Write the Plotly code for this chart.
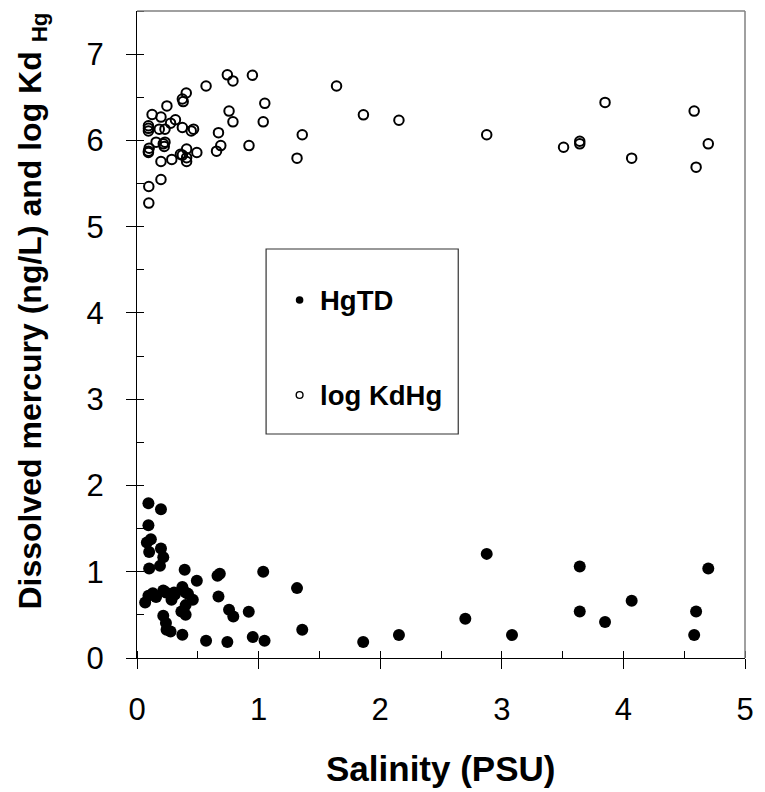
import plotly.graph_objects as go

# ---- data ----
hgtd_salinity = [0.094, 0.197, 0.094, 0.114, 0.081, 0.100, 0.197, 0.216, 0.189, 0.100,
                 0.392, 0.492, 0.662, 0.681, 0.670, 0.757, 0.792, 0.919, 0.952, 1.049,
                 1.038, 1.316, 1.359, 1.860, 0.743, 0.568, 0.373, 0.276, 0.243, 0.238,
                 0.216, 0.400, 0.365, 0.400, 0.459, 0.419, 0.373, 0.305, 0.284, 0.238,
                 0.216, 0.157, 0.130, 0.094, 0.067, 0.400, 0.311,
                 2.154, 2.700, 2.876, 3.084, 3.641, 3.641, 3.849, 4.068, 4.582, 4.598, 4.698]
hgtd_value = [1.794, 1.725, 1.539, 1.377, 1.338, 1.230, 1.268, 1.169, 1.068, 1.037,
              1.022, 0.895, 0.953, 0.976, 0.713, 0.559, 0.482, 0.536, 0.243, 0.200,
              0.999, 0.810, 0.328, 0.185, 0.185, 0.200, 0.270, 0.308, 0.328, 0.405,
              0.490, 0.501, 0.540, 0.613, 0.675, 0.744, 0.822, 0.760, 0.675, 0.760,
              0.782, 0.706, 0.752, 0.721, 0.644, 0.760, 0.737,
              0.266, 0.455, 1.207, 0.266, 1.060, 0.540, 0.417, 0.663, 0.266, 0.540, 1.037]

logkd_salinity = [0.743, 0.789, 0.949, 1.641, 1.862, 0.568, 0.405, 0.373, 0.380, 0.246,
                  0.124, 0.197, 0.094, 0.094, 0.094, 0.183, 0.230, 0.276, 0.316, 0.373,
                  0.446, 0.465, 0.757, 0.789, 1.051, 1.038, 1.359, 1.316, 0.670, 0.689,
                  0.654, 0.921, 0.157, 0.216, 0.230, 0.224, 0.100, 0.094, 0.094, 0.197,
                  0.286, 0.357, 0.373, 0.408, 0.408, 0.408, 0.492, 0.197, 0.097, 0.097,
                  2.154, 2.876, 3.508, 3.641, 3.641, 3.849, 4.068, 4.582, 4.698, 4.598]
logkd_value = [6.760, 6.690, 6.755, 6.630, 6.296, 6.630, 6.550, 6.480, 6.450, 6.400,
               6.300, 6.270, 6.170, 6.140, 6.110, 6.130, 6.130, 6.200, 6.240, 6.150,
               6.110, 6.130, 6.340, 6.215, 6.430, 6.215, 6.065, 5.794, 6.090, 5.940,
               5.875, 5.940, 5.980, 5.960, 5.980, 5.930, 5.910, 5.875, 5.860, 5.755,
               5.780, 5.840, 5.830, 5.900, 5.800, 5.755, 5.860, 5.547, 5.466, 5.273,
               6.234, 6.065, 5.920, 5.960, 5.990, 6.440, 5.794, 6.340, 5.960, 5.690]

x_ticks = [0, 1, 2, 3, 4, 5]
y_ticks = [0, 1, 2, 3, 4, 5, 6, 7]
legend_labels = ["HgTD", "log KdHg"]
x_title = "Salinity (PSU)"
y_title = "Dissolved mercury (ng/L) and log Kd <sub>Hg</sub>"

FONT = "Liberation Sans, Arial, sans-serif"
W, H = 765, 792
ML, MR, MT, MB = 137, 11, 11, 134
PW, PH = W - ML - MR, H - MT - MB


def px_x(p):
    return (p - ML) / PW


def px_y(p):
    return (H - MB - p) / PH


fig = go.Figure()
fig.add_trace(go.Scatter(x=hgtd_salinity, y=hgtd_value, mode="markers",
                         name=legend_labels[0],
                         marker=dict(symbol="circle", size=12, color="black",
                                     line=dict(width=0))))
fig.add_trace(go.Scatter(x=logkd_salinity, y=logkd_value, mode="markers",
                         name=legend_labels[1],
                         marker=dict(symbol="circle-open", size=9.5, color="black",
                                     line=dict(width=2))))
# helper trace for overlay axes (inside parts of major ticks)
fig.add_trace(go.Scatter(x=[None], y=[None], xaxis="x2", yaxis="y2",
                         showlegend=False, hoverinfo="skip"))

axis_common = dict(showgrid=False, zeroline=False, showline=True, linecolor="black",
                   linewidth=1.3, ticks="outside", ticklen=10, tickwidth=1.3,
                   tickcolor="black", tickfont=dict(family=FONT, size=31, color="black"))

fig.update_layout(
    width=W, height=H, autosize=False,
    margin=dict(l=ML, r=MR, t=MT, b=MB, pad=0),
    paper_bgcolor="white", plot_bgcolor="white",
    showlegend=False,
    xaxis=dict(range=[0, 5], tickvals=x_ticks, ticktext=[str(v) for v in x_ticks],
               minor=dict(dtick=0.5, ticks="inside", ticklen=7, tickwidth=1.3,
                          tickcolor="black"),
               ticklabelstandoff=14, **axis_common),
    yaxis=dict(range=[0, 7.5], tickvals=y_ticks, ticktext=[str(v) for v in y_ticks],
               minor=dict(dtick=0.5, ticks="inside", ticklen=7, tickwidth=1.3,
                          tickcolor="black"),
               ticklabelstandoff=16, **axis_common),
    xaxis2=dict(overlaying="x", anchor="y2", range=[0, 5], tickvals=x_ticks,
                ticks="inside", ticklen=7, tickwidth=1.3, tickcolor="black",
                showticklabels=False, showgrid=False, zeroline=False, showline=False),
    yaxis2=dict(overlaying="y", anchor="x2", range=[0, 7.5], tickvals=y_ticks,
                ticks="inside", ticklen=7, tickwidth=1.3, tickcolor="black",
                showticklabels=False, showgrid=False, zeroline=False, showline=False),
)

# top and right frame (grey)
fig.add_shape(type="line", xref="paper", yref="paper", x0=0, x1=1, y0=1, y1=1,
              line=dict(color="#808080", width=1.5))
fig.add_shape(type="line", xref="paper", yref="paper", x0=1, x1=1, y0=0, y1=1,
              line=dict(color="#808080", width=1.5))

# legend box
fig.add_shape(type="rect", xref="paper", yref="paper",
              x0=px_x(268), x1=px_x(463), y0=px_y(434), y1=px_y(249),
              line=dict(color="#333333", width=1.2), fillcolor="white")
leg_y = [px_y(300), px_y(395)]
fig.add_shape(type="circle", xref="paper", yref="paper", xsizemode="pixel",
              ysizemode="pixel", xanchor=px_x(302), yanchor=leg_y[0],
              x0=-3.8, x1=3.8, y0=-3.8, y1=3.8,
              fillcolor="black", line=dict(color="black", width=0))
fig.add_shape(type="circle", xref="paper", yref="paper", xsizemode="pixel",
              ysizemode="pixel", xanchor=px_x(302), yanchor=leg_y[1],
              x0=-3.4, x1=3.4, y0=-3.4, y1=3.4,
              fillcolor="white", line=dict(color="black", width=1.4))
for lab, yy in zip(legend_labels, leg_y):
    fig.add_annotation(x=px_x(321), y=yy, xref="paper", yref="paper",
                       xanchor="left", yanchor="middle", showarrow=False,
                       text="<b>%s</b>" % lab,
                       font=dict(family=FONT, size=27.5, color="black"))

# axis titles
fig.add_annotation(x=px_x(445), y=px_y(768), xref="paper", yref="paper",
                   xanchor="center", yanchor="middle", showarrow=False,
                   text="<b>%s</b>" % x_title,
                   font=dict(family=FONT, size=35, color="black"))
fig.add_annotation(x=px_x(30), y=px_y(311), xref="paper", yref="paper",
                   xanchor="center", yanchor="middle", showarrow=False, textangle=-90,
                   text="<b>%s</b>" % y_title,
                   font=dict(family=FONT, size=32, color="black"))

fig.write_html("out.html")
